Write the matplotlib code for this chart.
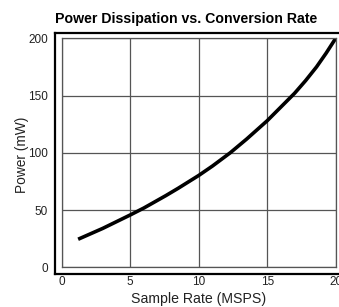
import matplotlib
matplotlib.use('Agg')
import matplotlib.pyplot as plt
from matplotlib.lines import Line2D

# values
rate = [1.2, 3.0, 5.0, 6.0, 7.6, 8.5, 10.0, 11.0, 12.3, 13.5, 15.0, 16.0, 17.0, 17.8, 18.6, 19.3, 20.0]
power = [24.5, 34.0, 45.7, 51.8, 62.6, 69.0, 80.2, 88.4, 100.0, 112.0, 128.0, 140.0, 152.0, 163.0, 175.0, 187.0, 200.0]
xticks = [0, 5, 10, 15, 20]
yticks = [0, 50, 100, 150, 200]

W, H = 339, 307
fig = plt.figure(figsize=(W / 100, H / 100), dpi=100)

ax = fig.add_axes([61.7 / W, 1 - 267.3 / H, (335.7 - 61.7) / W, (267.3 - 38.3) / H])
ax.plot(rate, power, color='black', lw=2.6, solid_capstyle='butt', solid_joinstyle='round')
ax.set_xlim(0, 20)
ax.set_ylim(0, 200)
ax.set_xticks(xticks)
ax.set_yticks(yticks)
ax.grid(True, color='#555555', lw=0.9)
ax.set_axisbelow(True)
for s in ax.spines.values():
    s.set_color('#555555')
    s.set_linewidth(0.9)

ax.tick_params(length=0, labelsize=8.5, labelcolor='#222222')
ax.tick_params(axis='y', pad=10)
ax.tick_params(axis='x', pad=6.5)
for lab in ax.get_xticklabels() + ax.get_yticklabels():
    lab.set_family('Liberation Sans')

# outer frame (left, top, bottom)
x0, y0, y1 = 54.5 / W, 1 - 32.5 / H, 1 - 274.3 / H
for xs, ys in [([x0, x0], [y0, y1]), ([x0, 1.05], [y0, y0]), ([x0, 1.05], [y1, y1])]:
    fig.add_artist(Line2D(xs, ys, color='black', lw=1.6,
                          transform=fig.transFigure, zorder=10))

fig.text(186.5 / W, 1 - 19 / H, 'Power Dissipation vs. Conversion Rate',
         ha='center', va='center', fontsize=10.2, fontweight='bold',
         family='Liberation Sans')
fig.text(22 / W, 1 - 155 / H, 'Power (mW)', rotation=90, ha='center', va='center',
         fontsize=9.9, family='Liberation Sans', color='#222222')
fig.text(198.5 / W, 1 - 298.5 / H, 'Sample Rate (MSPS)', ha='center', va='center',
         fontsize=10.2, family='Liberation Sans', color='#222222')

fig.savefig('out.png', dpi=100)
